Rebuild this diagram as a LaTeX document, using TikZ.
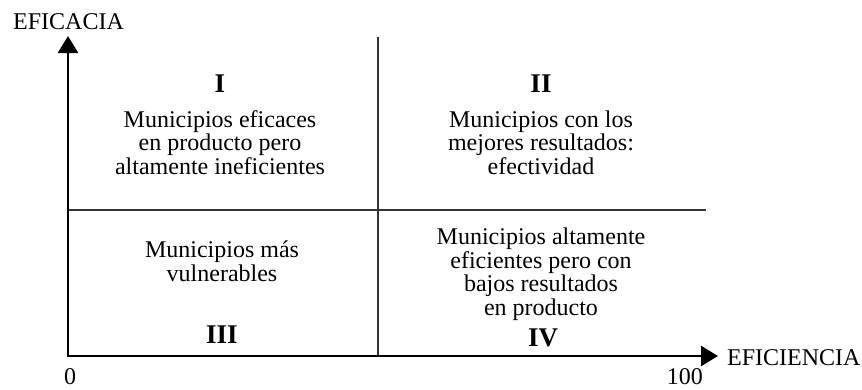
\documentclass[tikz,border=0pt]{standalone}
\usepackage{fontspec}
\setmainfont{Liberation Serif}
\usetikzlibrary{arrows.meta}
\begin{document}
\begin{tikzpicture}[x=1pt,y=-1pt,
  txt/.style={font=\fontsize{24}{23.5}\selectfont, align=center, inner sep=0pt, anchor=base},
  num/.style={font=\fontsize{27}{27}\selectfont\bfseries, inner sep=0pt, anchor=base},
  lbl/.style={font=\fontsize{24}{24}\selectfont, inner sep=0pt},
  axis/.style={line width=2.6pt, line join=miter, {Triangle[length=17pt,width=20pt]}-{Triangle[length=17pt,width=20pt]}},
  divline/.style={line width=1.5pt, color=black!80}]
\useasboundingbox (0,0) rectangle (862,389);
\coordinate (O) at (68,356);
\coordinate (Ytip) at (68,36);
\coordinate (Xtip) at (718,356);
\coordinate (Vt) at (378,37);
\coordinate (Vb) at (378,356);
\coordinate (Hl) at (68,210);
\coordinate (Hr) at (706,210);
\draw[divline] (Vt) -- (Vb);
\draw[divline] (Hl) -- (Hr);
\draw[axis] (Ytip) -- (O) -- (Xtip);
\node[lbl, anchor=base west] (ylab) at (13,29.5) {EFICACIA};
\node[lbl, anchor=base west] (xlab) at (727,365) {EFICIENCIA};
\node[lbl, anchor=base] (zero) at (70,384) {0};
\node[lbl, anchor=base east] (hund) at (703,384) {100};
\node[num] (n1) at (220,92) {I};
\node[num] (n2) at (541,92) {II};
\node[num] (n3) at (222,343) {III};
\node[num] (n4) at (543,346) {IV};
\node[txt] (q1) at (220,174) {Municipios eficaces\\en producto pero\\altamente ineficientes};
\node[txt] (q2) at (541,174) {Municipios con los\\mejores resultados:\\efectividad};
\node[txt] (q3) at (222,281) {Municipios más\\vulnerables};
\node[txt] (q4) at (541,315) {Municipios altamente\\eficientes pero con\\bajos resultados\\en producto};
\end{tikzpicture}
\end{document}
